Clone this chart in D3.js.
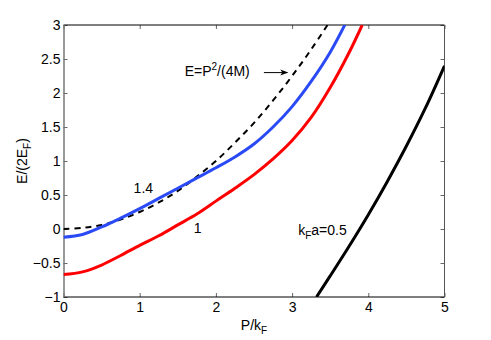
<!DOCTYPE html>
<html>

<head>
  <meta charset="utf-8">
  <title>Pair dispersion</title>
  <script src="https://d3js.org/d3.v7.min.js"></script>
  <style>
    body {
      margin: 0;
      background: white;
    }
    svg {
      display: block;
      font-family: "Liberation Sans", Arial, sans-serif;
    }
  </style>
</head>

<body>
  <script>
    // values (P/kF, E/(2EF))
    const pGrid = [0, 0.25, 0.5, 0.75, 1, 1.25, 1.5, 1.75, 2, 2.25, 2.5, 2.75, 3, 3.25, 3.5];
    const freeE = [0, 0.016, 0.06, 0.14, 0.25, 0.39, 0.56, 0.77, 1.0, 1.27, 1.56, 1.89, 2.25, 2.64, 3.06];

    const blueP = [0, 0.25, 0.5, 0.75, 1, 1.25, 1.5, 1.75, 2, 2.25, 2.5, 2.75, 3, 3.25, 3.5, 3.7];
    const blueE = [-0.12, -0.08, 0.03, 0.16, 0.3, 0.45, 0.6, 0.75, 0.9, 1.06, 1.25, 1.5, 1.8, 2.17, 2.6, 3.02];

    const redP = [0, 0.25, 0.5, 0.75, 1, 1.25, 1.5, 1.75, 2, 2.25, 2.5, 2.75, 3, 3.25, 3.5, 3.75, 3.92];
    const redE = [-0.67, -0.63, -0.53, -0.39, -0.24, -0.1, 0.06, 0.22, 0.41, 0.6, 0.8, 1.03, 1.3, 1.64, 2.08, 2.6, 3.0];

    const blackP = [3.32, 3.5, 3.75, 4, 4.25, 4.5, 4.75, 5];
    const blackE = [-1, -0.69, -0.25, 0.21, 0.7, 1.22, 1.78, 2.4];

    const xTicks = [0, 1, 2, 3, 4, 5];
    const yTicks = [-1, -0.5, 0, 0.5, 1, 1.5, 2, 2.5, 3];

    const margin = { top: 25, right: 46.5, bottom: 43, left: 63.5 };
    const width = 491 - margin.left - margin.right;
    const height = 340 - margin.top - margin.bottom;

    const svg = d3.select("body")
      .append("svg")
      .attr("width", 491)
      .attr("height", 340)
      .append("g")
      .attr("transform", `translate(${margin.left}, ${margin.top})`);

    const x = d3.scaleLinear().domain([0, 5]).range([0, width]);
    const y = d3.scaleLinear().domain([-1, 3]).range([height, 0]);

    svg.append("defs").append("clipPath")
      .attr("id", "plot-clip")
      .append("rect")
      .attr("width", width)
      .attr("height", height);

    const fmt = d3.format("~g");

    // axes with inward ticks, matlab style
    const gx = svg.append("g")
      .attr("transform", `translate(0,${height})`)
      .call(d3.axisBottom(x).tickValues(xTicks).tickFormat(fmt).tickSizeInner(-4).tickSizeOuter(0).tickPadding(5));
    const gxTop = svg.append("g")
      .call(d3.axisTop(x).tickValues(xTicks).tickFormat("").tickSizeInner(-4).tickSizeOuter(0));
    const gy = svg.append("g")
      .call(d3.axisLeft(y).tickValues(yTicks).tickFormat(fmt).tickSizeInner(-4).tickSizeOuter(0).tickPadding(3));
    const gyRight = svg.append("g")
      .attr("transform", `translate(${width},0)`)
      .call(d3.axisRight(y).tickValues(yTicks).tickFormat("").tickSizeInner(-4).tickSizeOuter(0));

    [gx, gxTop, gy, gyRight].forEach(g => {
      g.select(".domain").remove();
      g.selectAll("line").attr("stroke", "#666");
      g.selectAll("text").attr("fill", "#000").style("font-size", "14px").style("font-family", "inherit");
    });

    // frame
    svg.append("line").attr("x1", 0).attr("x2", width).attr("y1", 0).attr("y2", 0).attr("stroke", "#000");
    svg.append("line").attr("x1", 0).attr("x2", width).attr("y1", height).attr("y2", height).attr("stroke", "#000");
    svg.append("line").attr("x1", 0.5).attr("x2", 0.5).attr("y1", 0).attr("y2", height).attr("stroke", "#777").attr("stroke-width", 1.5);
    svg.append("line").attr("x1", width).attr("x2", width).attr("y1", 0).attr("y2", height).attr("stroke", "#555");

    const line = d3.line()
      .x(d => x(d[0]))
      .y(d => y(d[1]))
      .curve(d3.curveCatmullRom.alpha(0.5));

    const plot = svg.append("g").attr("clip-path", "url(#plot-clip)");

    plot.append("path")
      .datum(pGrid.map((p, i) => [p, freeE[i]]))
      .attr("fill", "none")
      .attr("stroke", "#000")
      .attr("stroke-width", 2)
      .attr("stroke-dasharray", "6,5")
      .attr("d", line);

    const curves = [
      { P: redP, E: redE, color: "#ff0000" },
      { P: blueP, E: blueE, color: "#2a4af5" },
      { P: blackP, E: blackE, color: "#000000" }
    ];

    curves.forEach(c => {
      plot.append("path")
        .datum(c.P.map((p, i) => [p, c.E[i]]))
        .attr("fill", "none")
        .attr("stroke", c.color)
        .attr("stroke-width", 3)
        .attr("stroke-linecap", "butt")
        .attr("d", line);
    });

    // axis labels
    const xl = svg.append("text")
      .attr("x", x(2.5))
      .attr("y", height + 33)
      .attr("text-anchor", "middle")
      .style("font-size", "14px");
    xl.append("tspan").text("P/k");
    xl.append("tspan").attr("dy", 4).style("font-size", "10px").text("F");

    const yl = svg.append("text")
      .attr("transform", `translate(${27 - margin.left},${height / 2}) rotate(-90)`)
      .attr("text-anchor", "middle")
      .style("font-size", "14px");
    yl.append("tspan").text("E/(2E");
    yl.append("tspan").attr("dy", 4).style("font-size", "10px").text("F");
    yl.append("tspan").attr("dy", -4).text(")");

    // annotations
    svg.append("text").attr("x", x(0.92)).attr("y", y(0.53)).style("font-size", "14px").text("1.4");
    svg.append("text").attr("x", x(1.71)).attr("y", y(-0.06)).style("font-size", "14px").text("1");

    const ka = svg.append("text").attr("x", x(3.08)).attr("y", y(-0.09)).style("font-size", "14px");
    ka.append("tspan").text("k");
    ka.append("tspan").attr("dy", 4).style("font-size", "10px").text("F");
    ka.append("tspan").attr("dy", -4).text("a=0.5");

    const eq = svg.append("text").attr("x", x(1.59)).attr("y", y(2.25)).style("font-size", "14px");
    eq.append("tspan").text("E=P");
    eq.append("tspan").attr("dy", -6).style("font-size", "10px").text("2");
    eq.append("tspan").attr("dy", 6).text("/(4M)");

    const ax0 = x(2.63), ax1 = x(2.95), ay = y(2.3);
    svg.append("line")
      .attr("x1", ax0).attr("x2", ax1 - 1).attr("y1", ay).attr("y2", ay)
      .attr("stroke", "#000").attr("stroke-width", 1);
    svg.append("path")
      .attr("d", `M${ax1},${ay} L${ax1 - 8},${ay - 3} L${ax1 - 6},${ay} L${ax1 - 8},${ay + 3} Z`)
      .attr("fill", "#000");
  </script>
</body>

</html>
